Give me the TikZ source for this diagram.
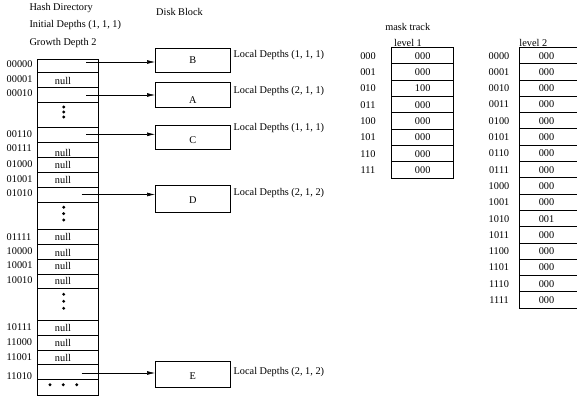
\documentclass[tikz,border=0pt]{standalone}
\usepackage{fontspec}
\setmainfont{Liberation Serif}
\usetikzlibrary{arrows.meta}
\begin{document}
\begin{tikzpicture}[x=1pt,y=-1pt,
  every node/.style={font=\fontsize{10.3}{12}\selectfont, inner sep=0pt},
  cell/.style={line width=0.75pt},
  dbox/.style={draw, line width=0.75pt, minimum width=74.5pt},
  arr/.style={line width=0.6pt, -{Latex[length=8pt,width=3.8pt]}},
  dot/.style={fill=black, circle, minimum size=3.2pt, inner sep=0pt},
  lbl/.style={anchor=west},
  tline/.style={line width=0.65pt}]
\useasboundingbox (0,0) rectangle (577,398);

% header texts
\node[lbl] (t1) at (29.3,8) {Hash Directory};
\node[lbl] (t2) at (29.3,25.3) {Initial Depths (1, 1, 1)};
\node[lbl] (t3) at (29.3,42.7) {Growth Depth 2};
\node[lbl] (t4) at (156,12) {Disk Block};

% hash directory column
\draw[cell] (37.3,59) rectangle (98.7,395.7);
\foreach \yy in {72.7,87.7,102.3,127.5,142,157.5,172.3,187,202,229.7,244.3,259,274,288.7,320,335.3,350,364.7,379.3}
  \draw[cell] (37.3,\yy) -- (98.7,\yy);

% row labels
\foreach \t/\yy [count=\i] in {00000/64,00001/79,00010/93.5,00110/134.3,00111/148.3,01000/163.7,01001/179.3,01010/193.3,01111/236.7,10000/251,10001/265,10010/280,10111/327.3,11000/342.3,11001/357.3,11010/375.7}
  \node[lbl] (k\i) at (6.5,\yy) {\t};

% null entries
\foreach \yy [count=\i] in {81,153.3,165,179.8,237,252.7,265.5,281,328,343.3,357.8}
  \node (n\i) at (63,\yy) {null};

% dots
\foreach \yy [count=\i] in {107,112,117}
  \node[dot] (da\i) at (63.7,\yy) {};
\foreach \yy [count=\i] in {207.3,213.6,220}
  \node[dot] (db\i) at (63.7,\yy) {};
\foreach \yy [count=\i] in {294.3,301.3,308.3}
  \node[dot] (dc\i) at (63.7,\yy) {};
\foreach \xx [count=\i] in {50,63.3,76.7}
  \node[dot] (dd\i) at (\xx,384.7) {};

% disk blocks
\node[dbox, minimum height=24pt] (B) at (192.75,60.3) {};
\node[dbox, minimum height=25pt] (A) at (192.75,95.2) {};
\node[dbox, minimum height=23.3pt] (C) at (192.75,137.3) {};
\node[dbox, minimum height=26.3pt] (D) at (192.75,198.8) {};
\node[dbox, minimum height=26.7pt] (E) at (192.75,374.3) {};
\node (lB) at (192.75,60.5) {B};
\node (lA) at (192.75,100.5) {A};
\node (lC) at (192.75,140.5) {C};
\node (lD) at (192.75,200.5) {D};
\node (lE) at (192.75,376.5) {E};

% local depths
\node[lbl] (ldB) at (233.5,55) {Local Depths (1, 1, 1)};
\node[lbl] (ldA) at (233.5,91) {Local Depths (2, 1, 1)};
\node[lbl] (ldC) at (233.5,127.7) {Local Depths (1, 1, 1)};
\node[lbl] (ldD) at (233.5,192.7) {Local Depths (2, 1, 2)};
\node[lbl] (ldE) at (233.5,371.7) {Local Depths (2, 1, 2)};

% arrows
\coordinate (sB) at (86,62);
\coordinate (sA) at (86,95);
\coordinate (sC) at (86,134.3);
\coordinate (sD) at (81.7,194.5);
\coordinate (sE) at (81.7,373);
\draw[arr] (sB) -- (sB -| B.west);
\draw[arr] (sA) -- (sA -| A.west);
\draw[arr] (sC) -- (sC -| C.west);
\draw[arr] (sD) -- (sD -| D.west);
\draw[arr] (sE) -- (sE -| E.west);

% mask track
\node (mt) at (407.7,26.7) {mask track};
\node (lv1) at (408,43.3) {level 1};
\draw[tline] (391.7,47.5) rectangle (453.7,177.9);
\foreach \k in {1,...,7}
  \draw[tline] (391.7,47.5+16.3*\k) -- (453.7,47.5+16.3*\k);
\foreach \t/\v [count=\i from 0] in {000/000,001/000,010/100,011/000,100/000,101/000,110/000,111/000}{
  \node (ma\i) at (368,47.5+16.3*\i+8.4) {\t};
  \node (mv\i) at (422.7,47.5+16.3*\i+8.4) {\v};
}

% level 2
\node (lv2) at (533.3,43.3) {level 2};
\draw[tline] (577.5,47.3) -- (519.3,47.3) -- (519.3,308.1) -- (577.5,308.1);
\foreach \k in {1,...,15}
  \draw[tline] (519.3,47.3+16.3*\k) -- (577.5,47.3+16.3*\k);
\foreach \t/\v [count=\i from 0] in {0000/000,0001/000,0010/000,0011/000,0100/000,0101/000,0110/000,0111/000,1000/000,1001/000,1010/001,1011/000,1100/000,1101/000,1110/000,1111/000}{
  \node (mb\i) at (499,47.3+16.3*\i+8.4) {\t};
  \node (mw\i) at (546.5,47.3+16.3*\i+8.4) {\v};
}
\end{tikzpicture}
\end{document}
